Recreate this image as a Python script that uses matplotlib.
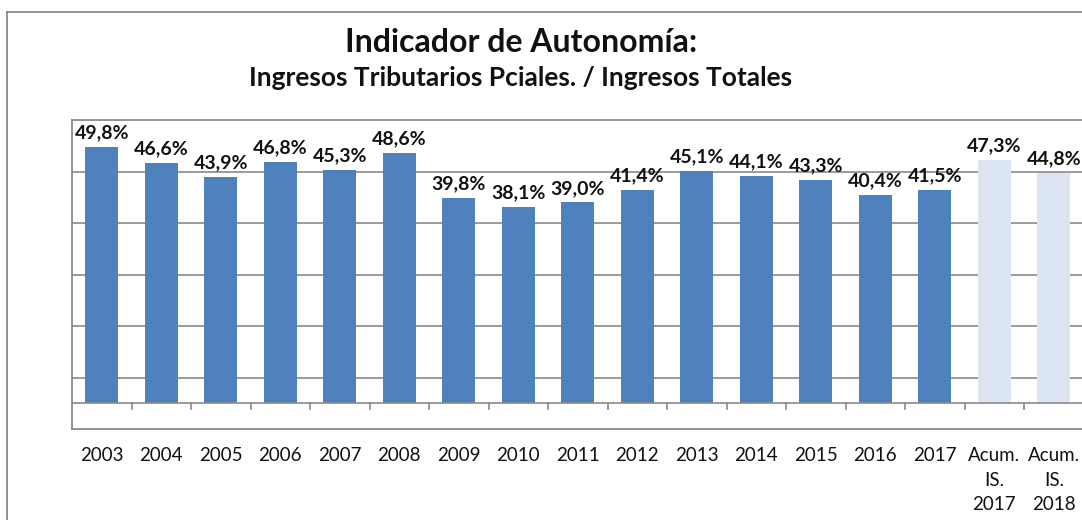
import numpy as np
import matplotlib
matplotlib.use("Agg")
import matplotlib.pyplot as plt
from matplotlib.lines import Line2D

plt.rcParams['font.family'] = ['Lato', 'DejaVu Sans']

categorias = ['2003', '2004', '2005', '2006', '2007', '2008', '2009', '2010', '2011',
              '2012', '2013', '2014', '2015', '2016', '2017',
              'Acum.\nIS.\n2017', 'Acum.\nIS.\n2018']
valores = [49.8, 46.6, 43.9, 46.8, 45.3, 48.6, 39.8, 38.1, 39.0,
           41.4, 45.1, 44.1, 43.3, 40.4, 41.5, 47.3, 44.8]
acumulado = [False] * 15 + [True, True]

W, H = 1082, 520
fig = plt.figure(figsize=(W / 100, H / 100), dpi=100)

# borde del area del grafico (solo se ven izquierda y arriba)
fig.add_artist(Line2D([6.5 / W, 6.5 / W], [0, 1 - 12 / H], transform=fig.transFigure,
                      color='#8a8a8a', lw=1.3))
fig.add_artist(Line2D([6.5 / W, 1], [1 - 12 / H, 1 - 12 / H], transform=fig.transFigure,
                      color='#8a8a8a', lw=1.3))

left, right = 72 / W, 1083.5 / W
top, bottom = 1 - 120 / H, 1 - 429 / H
ax = fig.add_axes([left, bottom, right - left, top - bottom])

x = np.arange(len(categorias))
colores = ['#DBE5F1' if a else '#4F81BD' for a in acumulado]
ax.bar(x, valores, width=0.55, color=colores, zorder=3)

ax.set_xlim(-0.5, len(categorias) - 0.5)
ax.set_ylim(-5, 55)

for g in [5, 15, 25, 35, 45]:
    ax.axhline(g, color='#8a8a8a', lw=1.2, zorder=1)
ax.axhline(0, color='#8a8a8a', lw=1.2, zorder=4)
# marcas entre categorias
for b in np.arange(0.5, len(categorias) - 0.5, 1):
    ax.plot([b, b], [0, -1.2], color='#8a8a8a', lw=1.2, zorder=4, clip_on=False)

for s in ['left', 'top', 'bottom']:
    ax.spines[s].set_color('#8a8a8a')
    ax.spines[s].set_linewidth(1.3)
ax.spines['right'].set_visible(False)
ax.set_yticks([])
ax.set_xticks([])

for xi, v in zip(x, valores):
    ax.annotate(f"{v:.1f}%".replace('.', ','), (xi, v), xytext=(0, 4),
                textcoords='offset points', ha='center', va='bottom',
                fontsize=14, fontweight='bold', color='#111111', zorder=5)

for xi, c in zip(x, categorias):
    ax.annotate(c, (xi, -5), xytext=(0, -13), textcoords='offset points',
                ha='center', va='top', fontsize=13.5, color='#111111',
                linespacing=1.55, annotation_clip=False)

fig.text(521 / W, 1 - 42 / H, 'Indicador de Autonomía:', ha='center', va='center',
         fontsize=23, fontweight='bold', color='#111111')
fig.text(521 / W, 1 - 78 / H, 'Ingresos Tributarios Pciales. / Ingresos Totales',
         ha='center', va='center', fontsize=19, fontweight='bold', color='#111111')

fig.savefig('out.png', dpi=100)
